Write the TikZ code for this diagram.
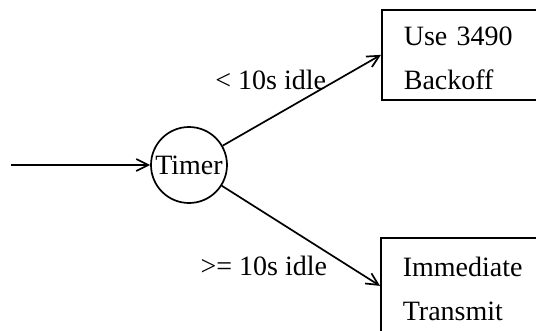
\documentclass[tikz,border=0pt]{standalone}
\usepackage{fontspec}
\setmainfont{Liberation Serif}
\usepackage{tikz}
\usetikzlibrary{arrows.meta,shapes,positioning}
\tikzstyle{arrow} = [line width=1.7pt,->,>={Straight Barb[length=12pt,width=12pt]}]
\tikzstyle{timernode} = [circle, draw, line width=1.7pt, minimum size=76pt, inner sep=0pt]
\tikzstyle{actionbox} = [rectangle, draw, line width=1.7pt, anchor=north west, align=left, text width=160pt, inner xsep=22pt, inner ysep=0pt, text height=25pt, text depth=44pt]
\tikzstyle{idlelabel} = [inner sep=0pt]

\begin{document}
\begin{tikzpicture}[x=1pt, y=-1pt, font=\fontsize{28pt}{44pt}\selectfont]
\useasboundingbox (0,0) rectangle (536,330);
\clip (0,0) rectangle (536,330);
% Timer and the two outcomes
\node (timer) [timernode] at (189,165) {Timer};
\node (backoff) [actionbox, minimum height=90pt] at (381,9) {Use 3490\\Backoff};
\node (transmit) [actionbox, minimum height=96pt] at (380,237) {Immediate\\Transmit};
\coordinate (input) at (11,165);

% Connectors
\draw[arrow] (input) -- (timer);
\draw[arrow] (timer) -- node[idlelabel, pos=0.62, anchor=base east, xshift=6pt] {< 10s idle} (backoff.west);
\draw[arrow] (timer) -- node[idlelabel, pos=0.69, anchor=north east, xshift=-3pt] {>= 10s idle} (transmit.west);
\end{tikzpicture}
\end{document}
